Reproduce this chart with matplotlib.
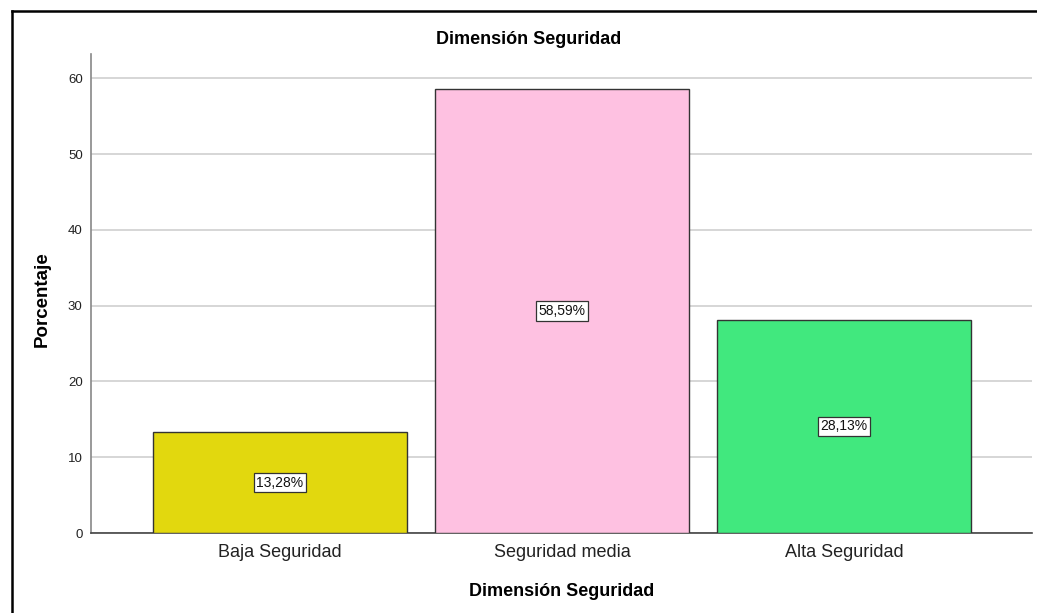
import matplotlib
matplotlib.use('Agg')
import matplotlib.pyplot as plt
from matplotlib.lines import Line2D

categories = ['Baja Seguridad', 'Seguridad media', 'Alta Seguridad']
porcentajes = [13.28, 58.59, 28.13]
colores = ['#E2D80E', '#FEC1E1', '#41E87E']
yticks = [0, 10, 20, 30, 40, 50, 60]

plt.rcParams['font.family'] = ['Liberation Sans', 'DejaVu Sans']

W, H = 1037, 613
fig = plt.figure(figsize=(W / 100, H / 100), dpi=100)
ax = fig.add_axes([91 / W, 1 - 533 / H, (1032 - 91) / W, (533 - 54) / H])

x = range(len(categories))
ax.bar(x, porcentajes, width=0.9, color=colores, edgecolor='#333333',
       linewidth=1.0, zorder=3)
for i, v in enumerate(porcentajes):
    ax.text(i, v / 2, f'{v:.2f}%'.replace('.', ','), ha='center', va='center',
            fontsize=10, color='#111111', zorder=4,
            bbox=dict(boxstyle='square,pad=0.2', fc='white', ec='#333333',
                      lw=0.9))

ax.set_xlim(-0.67, 2.667)
ax.set_ylim(0, 63.2)
ax.set_yticks(yticks)
ax.set_xticks(list(x))
ax.set_xticklabels(categories, fontsize=13, color='#222222')
ax.tick_params(axis='y', length=0, labelsize=9.5, pad=6, colors='#222222')
ax.tick_params(axis='x', length=0, pad=8)
ax.grid(axis='y', color='#d0d0d0', lw=1.2, zorder=0)
for s in ['top', 'right']:
    ax.spines[s].set_visible(False)
ax.spines['left'].set_color('#888888')
ax.spines['left'].set_linewidth(1.2)
ax.spines['bottom'].set_color('#444444')
ax.spines['bottom'].set_linewidth(1.2)

fig.text(529 / W, 1 - 40 / H, 'Dimensión Seguridad', ha='center',
         va='center', fontsize=13, fontweight='bold')
fig.text(562 / W, 1 - 591 / H, 'Dimensión Seguridad', ha='center',
         va='center', fontsize=13, fontweight='bold')
fig.text(42 / W, 1 - 299 / H, 'Porcentaje', ha='center', va='center',
         rotation=90, fontsize=13.5, fontweight='bold')

# outer frame (left and top edges)
fig.add_artist(Line2D([12 / W, 12 / W], [0, 1 - 11 / H], color='black',
                      lw=1.8, transform=fig.transFigure))
fig.add_artist(Line2D([12 / W, 1], [1 - 11 / H, 1 - 11 / H], color='black',
                      lw=1.8, transform=fig.transFigure))

fig.savefig('out.png', dpi=100)
